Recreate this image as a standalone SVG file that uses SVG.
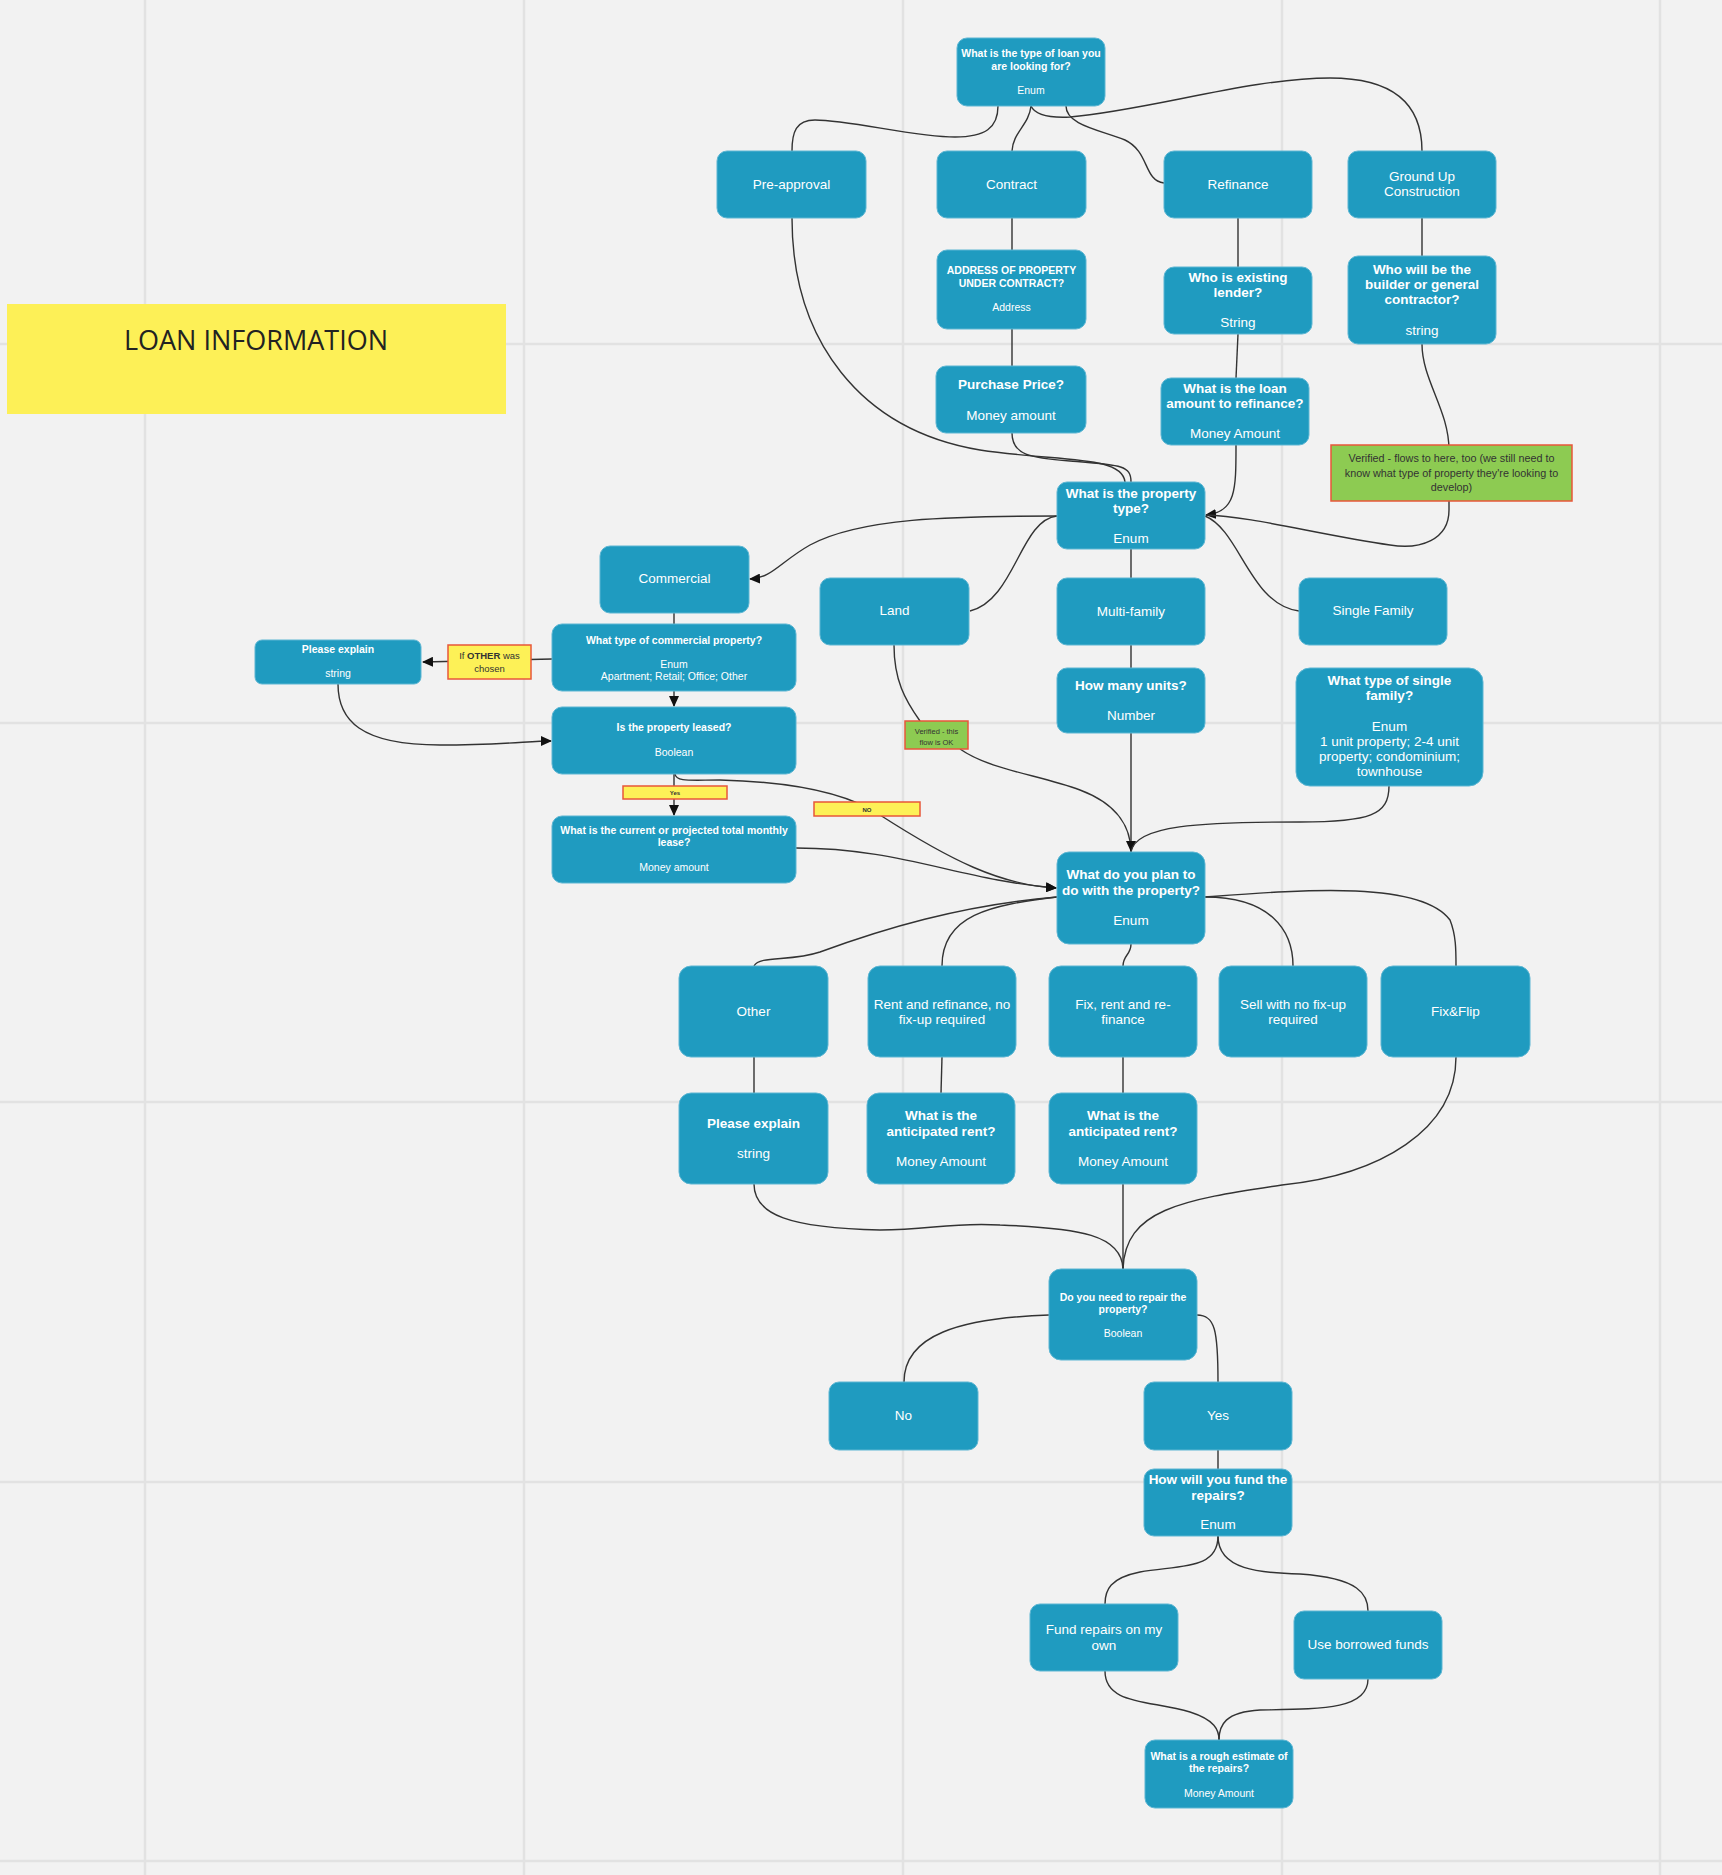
<svg xmlns="http://www.w3.org/2000/svg" width="1722" height="1875" viewBox="0 0 1722 1875">
<defs>
<marker id="arr" markerUnits="userSpaceOnUse" markerWidth="11" markerHeight="10" refX="10" refY="5" orient="auto">
<path d="M0,0 L11,5 L0,10 z" fill="#111"/>
</marker>
<style>
.bg{fill:#f2f2f2}
.grid{stroke:#e2e2e2;stroke-width:2.5}
.n{fill:#1f9bc0;stroke:#5db6d3;stroke-width:1}
.t{font-family:"Liberation Sans",Arial,sans-serif;font-weight:bold;fill:#fff;text-anchor:middle}
.s{font-family:"Liberation Sans",Arial,sans-serif;fill:#fff;text-anchor:middle}
.f13{font-size:13.5px}
.f95{font-size:10.5px}
.c{fill:none;stroke:#333;stroke-width:1.4}
.yl{fill:#fdf157;stroke:#e8573a;stroke-width:1.5}
.gn{fill:#8dcb52;stroke:#e8573a;stroke-width:1.5}
.lt{font-family:"Liberation Sans",Arial,sans-serif;fill:#333;text-anchor:middle}
</style>
</defs>
<rect class="bg" x="0" y="0" width="1722" height="1875"/>
<g id="grid">
<line class="grid" x1="145" y1="0" x2="145" y2="1875"/>
<line class="grid" x1="524" y1="0" x2="524" y2="1875"/>
<line class="grid" x1="903" y1="0" x2="903" y2="1875"/>
<line class="grid" x1="1282" y1="0" x2="1282" y2="1875"/>
<line class="grid" x1="1660" y1="0" x2="1660" y2="1875"/>
<line class="grid" x1="0" y1="344" x2="1722" y2="344"/>
<line class="grid" x1="0" y1="723" x2="1722" y2="723"/>
<line class="grid" x1="0" y1="1102" x2="1722" y2="1102"/>
<line class="grid" x1="0" y1="1482" x2="1722" y2="1482"/>
<line class="grid" x1="0" y1="1861" x2="1722" y2="1861"/>
</g>
<g id="title">
<rect x="7" y="304" width="499" height="110" fill="#fdf057"/>
<text x="256" y="350" font-family="'Open Sans','Noto Sans',sans-serif" font-size="27" fill="#222" text-anchor="middle">LOAN INFORMATION</text>
</g>
<g id="connectors">
<path class="c" d="M998,106 C998,128 985,137 955,137 C915,137 850,120 815,120 C796,120 792,132 792,151"/>
<path class="c" d="M1031,106 C1029,125 1013,132 1012,151"/>
<path class="c" d="M1066,106 C1066,125 1100,130 1125,140 C1150,152 1143,180 1164,183"/>
<path class="c" d="M1031,106 C1035,115 1050,118 1070,117 C1150,110 1250,78 1330,78 C1400,78 1422,110 1422,151"/>
<path class="c" d="M792,218 C792,340 860,430 980,450 C1060,462 1122,455 1125,482"/>
<path class="c" d="M1012,218 L1012,250"/>
<path class="c" d="M1012,329 L1012,366"/>
<path class="c" d="M1012,433 C1012,455 1030,458 1070,461 C1120,465 1131,465 1131,482"/>
<path class="c" d="M1238,218 L1238,267"/>
<path class="c" d="M1238,334 L1236,378"/>
<path class="c" d="M1236,445 C1236,490 1236,512 1206,515" marker-end="url(#arr)"/>
<path class="c" d="M1422,218 L1422,256"/>
<path class="c" d="M1422,344 C1422,380 1449,410 1449,450 L1449,510 C1449,540 1420,550 1390,545 C1320,535 1250,516 1206,515"/>
<path class="c" d="M1057,516 C950,516 860,518 810,545 C780,562 772,578 750,579" marker-end="url(#arr)"/>
<path class="c" d="M1057,516 C1020,520 1015,600 970,611"/>
<path class="c" d="M1131,549 L1131,578"/>
<path class="c" d="M1205,516 C1240,530 1250,605 1299,611"/>
<path class="c" d="M674,613 L674,624"/>
<path class="c" d="M552,659 L423,662" marker-end="url(#arr)"/>
<path class="c" d="M338,684 C338,720 360,745 440,745 C500,745 530,741 551,741" marker-end="url(#arr)"/>
<path class="c" d="M674,691 L674,706" marker-end="url(#arr)"/>
<path class="c" d="M674,774 L674,815" marker-end="url(#arr)"/>
<path class="c" d="M675,774 C676,782 690,780 720,780 C800,782 850,795 880,815 C950,860 1000,885 1056,888" marker-end="url(#arr)"/>
<path class="c" d="M796,848 C900,848 960,880 1056,888" stroke-width="2" marker-end="url(#arr)"/>
<path class="c" d="M894,645 C894,680 905,700 920,721"/>
<path class="c" d="M960,749 C990,770 1040,775 1080,790 C1120,805 1131,830 1131,852"/>
<path class="c" d="M1131,645 L1131,668"/>
<path class="c" d="M1131,733 L1131,851" marker-end="url(#arr)"/>
<path class="c" d="M1389,786 C1389,815 1370,822 1300,822 C1200,822 1135,825 1131,852"/>
<path class="c" d="M1057,897 C960,905 880,930 820,952 C790,962 760,955 754,966"/>
<path class="c" d="M1057,897 C990,905 942,915 942,966"/>
<path class="c" d="M1131,944 C1131,955 1123,955 1123,966"/>
<path class="c" d="M1205,897 C1270,897 1293,930 1293,966"/>
<path class="c" d="M1205,897 C1300,890 1420,880 1450,920 C1456,935 1456,950 1456,966"/>
<path class="c" d="M754,1057 L754,1093"/>
<path class="c" d="M942,1057 L941,1093"/>
<path class="c" d="M1123,1057 L1123,1093"/>
<path class="c" d="M754,1184 C754,1215 790,1228 880,1230 C930,1230 950,1222 1000,1225 C1080,1228 1122,1235 1123,1269"/>
<path class="c" d="M1123,1184 L1123,1269"/>
<path class="c" d="M1456,1057 C1456,1130 1380,1175 1282,1185 C1180,1200 1125,1210 1123,1269"/>
<path class="c" d="M1049,1315 C960,1318 904,1335 904,1382"/>
<path class="c" d="M1197,1315 C1215,1315 1218,1330 1218,1382"/>
<path class="c" d="M1218,1450 L1218,1469"/>
<path class="c" d="M1218,1536 C1218,1570 1180,1565 1140,1572 C1110,1578 1105,1590 1105,1604"/>
<path class="c" d="M1218,1536 C1218,1570 1260,1573 1300,1574 C1360,1578 1368,1595 1368,1611"/>
<path class="c" d="M1105,1671 C1105,1705 1150,1700 1190,1712 C1215,1720 1219,1730 1219,1740"/>
<path class="c" d="M1368,1679 C1368,1710 1320,1709 1260,1710 C1225,1712 1219,1725 1219,1740"/>
</g>
<g id="n-loan-type"><rect class="n" x="957" y="38" width="148" height="68" rx="10"/>
<text class="t f95" x="1031" y="56.5">What is the type of loan you</text>
<text class="t f95" x="1031" y="69.5">are looking for?</text>
<text class="s f95" x="1031" y="93.5">Enum</text></g>
<g id="n-preapproval"><rect class="n" x="717" y="151" width="149" height="67" rx="10"/>
<text class="s f13" x="791.5" y="188.5">Pre-approval</text></g>
<g id="n-contract"><rect class="n" x="937" y="151" width="149" height="67" rx="10"/>
<text class="s f13" x="1011.5" y="188.5">Contract</text></g>
<g id="n-refinance"><rect class="n" x="1164" y="151" width="148" height="67" rx="10"/>
<text class="s f13" x="1238" y="188.5">Refinance</text></g>
<g id="n-groundup"><rect class="n" x="1348" y="151" width="148" height="67" rx="10"/>
<text class="s f13" x="1422" y="180.5">Ground Up</text>
<text class="s f13" x="1422" y="195.5">Construction</text></g>
<g id="n-address"><rect class="n" x="937" y="250" width="149" height="79" rx="10"/>
<text class="t f95" x="1011.5" y="273.5">ADDRESS OF PROPERTY</text>
<text class="t f95" x="1011.5" y="286.5">UNDER CONTRACT?</text>
<text class="s f95" x="1011.5" y="310.5">Address</text></g>
<g id="n-lender"><rect class="n" x="1164" y="267" width="148" height="67" rx="10"/>
<text class="t f13" x="1238" y="281.5">Who is existing</text>
<text class="t f13" x="1238" y="296.5">lender?</text>
<text class="s f13" x="1238" y="326.5">String</text></g>
<g id="n-builder"><rect class="n" x="1348" y="256" width="148" height="88" rx="10"/>
<text class="t f13" x="1422" y="273.5">Who will be the</text>
<text class="t f13" x="1422" y="288.5">builder or general</text>
<text class="t f13" x="1422" y="303.5">contractor?</text>
<text class="s f13" x="1422" y="334.5">string</text></g>
<g id="n-purchase"><rect class="n" x="936" y="366" width="150" height="67" rx="10"/>
<text class="t f13" x="1011" y="388.5">Purchase Price?</text>
<text class="s f13" x="1011" y="419.5">Money amount</text></g>
<g id="n-loanamount"><rect class="n" x="1161" y="378" width="148" height="67" rx="10"/>
<text class="t f13" x="1235" y="392.5">What is the loan</text>
<text class="t f13" x="1235" y="407.5">amount to refinance?</text>
<text class="s f13" x="1235" y="437.5">Money Amount</text></g>
<g id="note-verified"><rect class="gn" x="1331" y="445" width="241" height="56"/>
<text class="lt" font-size="10.8" x="1451.5" y="461.5">Verified - flows to here, too (we still need to</text>
<text class="lt" font-size="10.8" x="1451.5" y="476.5">know what type of property they're looking to</text>
<text class="lt" font-size="10.8" x="1451.5" y="490.5">develop)</text></g>
<g id="n-proptype"><rect class="n" x="1057" y="482" width="148" height="67" rx="10"/>
<text class="t f13" x="1131" y="497.5">What is the property</text>
<text class="t f13" x="1131" y="512.5">type?</text>
<text class="s f13" x="1131" y="542.5">Enum</text></g>
<g id="n-commercial"><rect class="n" x="600" y="546" width="149" height="67" rx="10"/>
<text class="s f13" x="674.5" y="582.5">Commercial</text></g>
<g id="n-land"><rect class="n" x="820" y="578" width="149" height="67" rx="10"/>
<text class="s f13" x="894.5" y="614.5">Land</text></g>
<g id="n-multifamily"><rect class="n" x="1057" y="578" width="148" height="67" rx="10"/>
<text class="s f13" x="1131" y="615.5">Multi-family</text></g>
<g id="n-singlefamily"><rect class="n" x="1299" y="578" width="148" height="67" rx="10"/>
<text class="s f13" x="1373" y="614.5">Single Family</text></g>
<g id="n-commtype"><rect class="n" x="552" y="624" width="244" height="67" rx="10"/>
<text class="t f95" x="674" y="643.5">What type of commercial property?</text>
<text class="s f95" x="674" y="667.5">Enum</text>
<text class="s f95" x="674" y="679.5">Apartment; Retail; Office; Other</text></g>
<g id="label-other"><rect class="yl" x="448" y="645" width="83" height="34"/>
<text class="lt" font-size="9.5" x="489.5" y="658.5">If <tspan font-weight="bold">OTHER</tspan> was</text>
<text class="lt" font-size="9.5" x="489.5" y="671.5">chosen</text></g>
<g id="n-explain1"><rect class="n" x="255" y="640" width="166" height="44" rx="7"/>
<text class="t f95" x="338" y="652.5">Please explain</text>
<text class="s f95" x="338" y="676.5">string</text></g>
<g id="n-leased"><rect class="n" x="552" y="707" width="244" height="67" rx="10"/>
<text class="t f95" x="674" y="730.5">Is the property leased?</text>
<text class="s f95" x="674" y="755.5">Boolean</text></g>
<g id="label-yes"><rect class="yl" x="623" y="786" width="104" height="13"/>
<text class="lt" font-size="6" font-weight="bold" x="675" y="795">Yes</text></g>
<g id="label-no"><rect class="yl" x="814" y="802" width="106" height="14"/>
<text class="lt" font-size="6" font-weight="bold" x="867" y="811.5">NO</text></g>
<g id="n-lease"><rect class="n" x="552" y="816" width="244" height="67" rx="10"/>
<text class="t f95" x="674" y="833.5">What is the current or projected total monthly</text>
<text class="t f95" x="674" y="845.5">lease?</text>
<text class="s f95" x="674" y="870.5">Money amount</text></g>
<g id="n-units"><rect class="n" x="1057" y="668" width="148" height="65" rx="10"/>
<text class="t f13" x="1131" y="689.5">How many units?</text>
<text class="s f13" x="1131" y="719.5">Number</text></g>
<g id="n-sftype"><rect class="n" x="1296" y="668" width="187" height="118" rx="14"/>
<text class="t f13" x="1389.5" y="684.5">What type of single</text>
<text class="t f13" x="1389.5" y="699.5">family?</text>
<text class="s f13" x="1389.5" y="730.5">Enum</text>
<text class="s f13" x="1389.5" y="745.5">1 unit property; 2-4 unit</text>
<text class="s f13" x="1389.5" y="760.5">property; condominium;</text>
<text class="s f13" x="1389.5" y="775.5">townhouse</text></g>
<g id="note-land"><rect class="gn" x="905" y="721" width="63" height="28"/>
<text class="lt" font-size="7.5" x="936.5" y="733.5">Verified - this</text>
<text class="lt" font-size="7.5" x="936.5" y="744.5">flow is OK</text></g>
<g id="n-plan"><rect class="n" x="1057" y="852" width="148" height="92" rx="12"/>
<text class="t f13" x="1131" y="878.5">What do you plan to</text>
<text class="t f13" x="1131" y="894.5">do with the property?</text>
<text class="s f13" x="1131" y="924.5">Enum</text></g>
<g id="n-other"><rect class="n" x="679" y="966" width="149" height="91" rx="12"/>
<text class="s f13" x="753.5" y="1015.5">Other</text></g>
<g id="n-rentrefi"><rect class="n" x="868" y="966" width="148" height="91" rx="12"/>
<text class="s f13" x="942" y="1008.5">Rent and refinance, no</text>
<text class="s f13" x="942" y="1023.5">fix-up required</text></g>
<g id="n-fixrent"><rect class="n" x="1049" y="966" width="148" height="91" rx="12"/>
<text class="s f13" x="1123" y="1008.5">Fix, rent and re-</text>
<text class="s f13" x="1123" y="1023.5">finance</text></g>
<g id="n-sell"><rect class="n" x="1219" y="966" width="148" height="91" rx="12"/>
<text class="s f13" x="1293" y="1008.5">Sell with no fix-up</text>
<text class="s f13" x="1293" y="1023.5">required</text></g>
<g id="n-fixflip"><rect class="n" x="1381" y="966" width="149" height="91" rx="12"/>
<text class="s f13" x="1455.5" y="1015.5">Fix&amp;Flip</text></g>
<g id="n-explain2"><rect class="n" x="679" y="1093" width="149" height="91" rx="12"/>
<text class="t f13" x="753.5" y="1127.5">Please explain</text>
<text class="s f13" x="753.5" y="1157.5">string</text></g>
<g id="n-rent1"><rect class="n" x="867" y="1093" width="148" height="91" rx="12"/>
<text class="t f13" x="941" y="1119.5">What is the</text>
<text class="t f13" x="941" y="1135.5">anticipated rent?</text>
<text class="s f13" x="941" y="1165.5">Money Amount</text></g>
<g id="n-rent2"><rect class="n" x="1049" y="1093" width="148" height="91" rx="12"/>
<text class="t f13" x="1123" y="1119.5">What is the</text>
<text class="t f13" x="1123" y="1135.5">anticipated rent?</text>
<text class="s f13" x="1123" y="1165.5">Money Amount</text></g>
<g id="n-repair"><rect class="n" x="1049" y="1269" width="148" height="91" rx="12"/>
<text class="t f95" x="1123" y="1300.5">Do you need to repair the</text>
<text class="t f95" x="1123" y="1312.5">property?</text>
<text class="s f95" x="1123" y="1336.5">Boolean</text></g>
<g id="n-no"><rect class="n" x="829" y="1382" width="149" height="68" rx="10"/>
<text class="s f13" x="903.5" y="1419.5">No</text></g>
<g id="n-yes"><rect class="n" x="1144" y="1382" width="148" height="68" rx="10"/>
<text class="s f13" x="1218" y="1419.5">Yes</text></g>
<g id="n-fund"><rect class="n" x="1144" y="1469" width="148" height="67" rx="10"/>
<text class="t f13" x="1218" y="1483.5">How will you fund the</text>
<text class="t f13" x="1218" y="1499.5">repairs?</text>
<text class="s f13" x="1218" y="1528.5">Enum</text></g>
<g id="n-fundown"><rect class="n" x="1030" y="1604" width="148" height="67" rx="10"/>
<text class="s f13" x="1104" y="1633.5">Fund repairs on my</text>
<text class="s f13" x="1104" y="1649.5">own</text></g>
<g id="n-borrowed"><rect class="n" x="1294" y="1611" width="148" height="68" rx="10"/>
<text class="s f13" x="1368" y="1648.5">Use borrowed funds</text></g>
<g id="n-estimate"><rect class="n" x="1145" y="1740" width="148" height="68" rx="10"/>
<text class="t f95" x="1219" y="1759.5">What is a rough estimate of</text>
<text class="t f95" x="1219" y="1771.5">the repairs?</text>
<text class="s f95" x="1219" y="1796.5">Money Amount</text></g>
</svg>
